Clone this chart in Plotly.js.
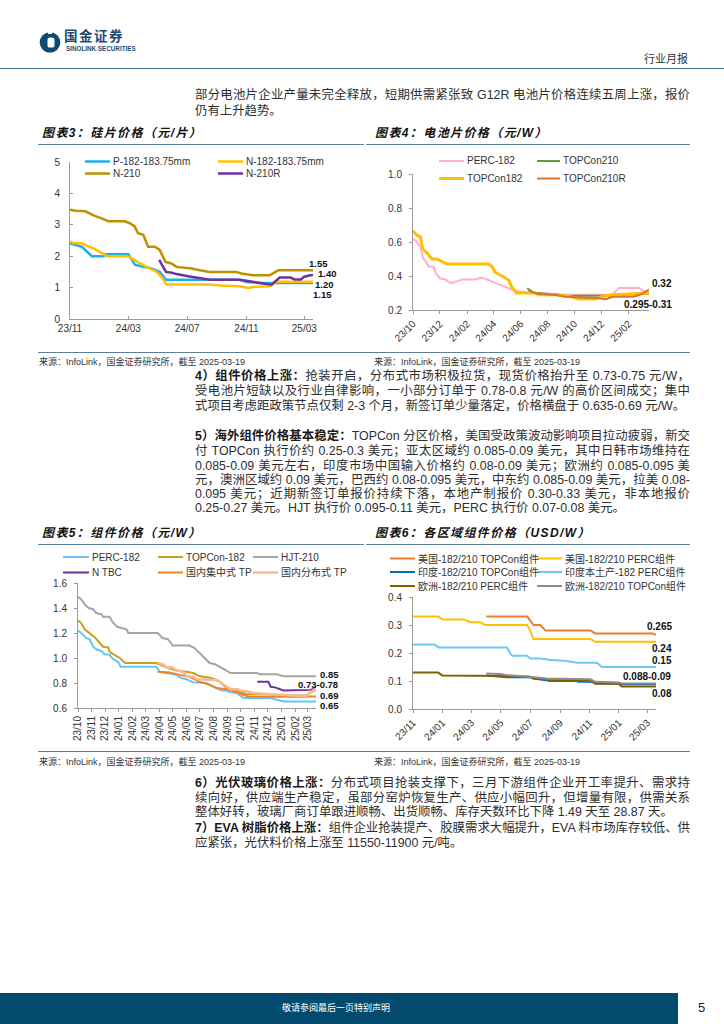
<!DOCTYPE html>
<html><head><meta charset="utf-8">
<script src="https://cdn.plot.ly/plotly-3.0.1.min.js"></script>
<style>
html,body{margin:0;padding:0;background:#fff}
body{width:724px;height:1024px;position:relative;overflow:hidden;font-family:"Liberation Sans","Noto Sans CJK SC",sans-serif;color:#222}
.a{position:absolute;white-space:nowrap}
.tl{position:absolute;left:195px;width:495px;font-size:12.4px;line-height:13px;height:13px;white-space:nowrap;text-align:justify;text-align-last:justify;color:#2e2e2e}
.tl.last{text-align-last:left}
.tl b{font-weight:700;color:#1a1a1a}
.ct{position:absolute;font-size:12px;font-weight:700;font-style:italic;line-height:14px;color:#111;letter-spacing:1.4px;white-space:nowrap}
.rule{position:absolute;height:0;border-top:1.5px solid #5b7f9b}
.src{position:absolute;font-size:9px;line-height:10px;color:#333;white-space:nowrap}
.chart{position:absolute}
</style></head><body>

<!-- header -->
<svg class="a" style="left:39px;top:30px" width="22" height="23" viewBox="0 0 22 23">
  <circle cx="11" cy="12.5" r="10.3" fill="#0e4a74"/>
  <rect x="8.5" y="7.5" width="7" height="10" rx="2.6" fill="#fff"/>
  <rect x="9" y="0" width="4" height="4" fill="#fff"/>
</svg>
<div class="a" style="left:64px;top:30px;font-size:13.5px;line-height:14px;font-weight:700;letter-spacing:1.5px;color:#1b4b72">国金证券</div>
<div class="a" style="left:66px;top:45.5px;font-size:6.3px;line-height:6px;font-weight:700;color:#1b4b72">SINOLINK SECURITIES</div>
<div class="a" style="left:644px;top:52px;font-size:11px;line-height:14px;color:#333">行业月报</div>
<div class="rule" style="left:0;top:67.5px;width:724px;border-top:1.5px solid #3f6f8f"></div>

<div class="tl" style="top:88.5px">部分电池片企业产量未完全释放，短期供需紧张致 G12R 电池片价格连续五周上涨，报价</div>
<div class="tl last" style="top:104.5px">仍有上升趋势。</div>

<div class="ct" style="left:42px;top:126px">图表3：硅片价格（元/片）</div>
<div class="ct" style="left:375px;top:126px">图表4：电池片价格（元/W）</div>
<div class="rule" style="left:38px;top:143.5px;width:326px"></div>
<div class="rule" style="left:366px;top:143.5px;width:324px"></div>

<div id="c3" class="chart" style="left:30px;top:150px;width:335px;height:200px"></div>
<div id="c4" class="chart" style="left:370px;top:150px;width:335px;height:200px"></div>

<div class="rule" style="left:38px;top:351.5px;width:652px"></div>
<div class="src" style="left:39px;top:357px">来源：InfoLink，国金证券研究所，截至 2025-03-19</div>
<div class="src" style="left:374px;top:357px">来源：InfoLink，国金证券研究所，截至 2025-03-19</div>

<div class="tl" style="top:370px"><b>4）组件价格上涨：</b>抢装开启，分布式市场积极拉货，现货价格抬升至 0.73-0.75 元/W，</div>
<div class="tl" style="top:385px">受电池片短缺以及行业自律影响，一小部分订单于 0.78-0.8 元/W 的高价区间成交；集中</div>
<div class="tl last" style="top:400px">式项目考虑距政策节点仅剩 2-3 个月，新签订单少量落定，价格横盘于 0.635-0.69 元/W。</div>

<div class="tl" style="top:430px"><b>5）海外组件价格基本稳定：</b>TOPCon 分区价格，美国受政策波动影响项目拉动疲弱，新交</div>
<div class="tl" style="top:445px">付 TOPCon 执行价约 0.25-0.3 美元；亚太区域约 0.085-0.09 美元，其中日韩市场维持在</div>
<div class="tl" style="top:459.5px">0.085-0.09 美元左右，印度市场中国输入价格约 0.08-0.09 美元；欧洲约 0.085-0.095 美</div>
<div class="tl" style="top:473.5px">元，澳洲区域约 0.09 美元，巴西约 0.08-0.095 美元，中东约 0.085-0.09 美元，拉美 0.08-</div>
<div class="tl" style="top:487.5px">0.095 美元；近期新签订单报价持续下落，本地产制报价 0.30-0.33 美元，非本地报价</div>
<div class="tl last" style="top:502px">0.25-0.27 美元。HJT 执行价 0.095-0.11 美元，PERC 执行价 0.07-0.08 美元。</div>

<div class="ct" style="left:42px;top:526px">图表5：组件价格（元/W）</div>
<div class="ct" style="left:375px;top:526px">图表6：各区域组件价格（USD/W）</div>
<div class="rule" style="left:38px;top:543.5px;width:326px"></div>
<div class="rule" style="left:366px;top:543.5px;width:324px"></div>

<div id="c5" class="chart" style="left:30px;top:550px;width:335px;height:200px"></div>
<div id="c6" class="chart" style="left:370px;top:550px;width:335px;height:200px"></div>

<div class="rule" style="left:38px;top:751px;width:652px"></div>
<div class="src" style="left:39px;top:757px">来源：InfoLink，国金证券研究所，截至 2025-03-19</div>
<div class="src" style="left:374px;top:757px">来源：InfoLink，国金证券研究所，截至 2025-03-19</div>

<div class="tl" style="top:777px"><b>6）光伏玻璃价格上涨：</b>分布式项目抢装支撑下，三月下游组件企业开工率提升、需求持</div>
<div class="tl" style="top:791.5px">续向好，供应端生产稳定，虽部分窑炉恢复生产、供应小幅回升，但增量有限，供需关系</div>
<div class="tl last" style="top:806px">整体好转，玻璃厂商订单跟进顺畅、出货顺畅、库存天数环比下降 1.49 天至 28.87 天。</div>
<div class="tl" style="top:822px"><b>7）EVA 树脂价格上涨：</b>组件企业抢装提产、胶膜需求大幅提升，EVA 料市场库存较低、供</div>
<div class="tl last" style="top:837px">应紧张，光伏料价格上涨至 11550-11900 元/吨。</div>

<!-- footer -->
<div class="a" style="left:0;top:993px;width:678px;height:31px;background:#034b6e"></div>
<div class="a" style="left:0;top:1002px;width:672px;text-align:center;font-size:9px;line-height:12px;color:#fff">敬请参阅最后一页特别声明</div>
<div class="a" style="left:698px;top:1000px;font-size:13px;line-height:16px;color:#222">5</div>

<script>
// ---------------- DATA ----------------
// Chart 3: silicon wafer price (元/片)
const c3Ticks = ['23/11','24/03','24/07','24/11','25/03'];
const c3Names = ['P-182-183.75mm','N-182-183.75mm','N-210','N-210R'];
const c3_P182_x = ['2023-11-01','2023-11-16','2023-11-26','2023-12-16','2024-01-10','2024-01-14','2024-03-01','2024-03-15','2024-04-01','2024-04-18','2024-05-05','2024-05-18','2024-10-18','2024-11-01','2024-11-29','2025-03-19'];
const c3_P182_y = [2.41,2.34,2.30,2.00,2.00,2.06,2.06,1.72,1.67,1.61,1.50,1.25,1.25,1.18,1.15,1.15];
const c3_N182_x = ['2023-11-01','2023-11-09','2023-11-26','2023-12-06','2023-12-20','2024-01-07','2024-01-17','2024-02-27','2024-03-08','2024-03-25','2024-04-08','2024-04-29','2024-05-09','2024-05-19','2024-08-17','2024-09-07','2024-10-18','2024-11-05','2024-11-15','2024-12-19','2025-01-03','2025-03-19'];
const c3_N182_y = [2.47,2.41,2.41,2.33,2.25,2.09,2.00,2.00,1.93,1.77,1.66,1.50,1.34,1.10,1.10,1.07,1.04,0.99,1.02,1.04,1.19,1.19];
const c3_N210_x = ['2023-11-01','2023-11-13','2023-12-03','2023-12-20','2024-01-03','2024-01-20','2024-02-23','2024-03-04','2024-03-14','2024-03-21','2024-04-01','2024-04-11','2024-04-25','2024-05-05','2024-05-17','2024-05-29','2024-06-09','2024-06-30','2024-07-10','2024-07-27','2024-08-17','2024-10-11','2024-10-21','2024-11-15','2024-12-19','2025-01-06','2025-03-19'];
const c3_N210_y = [3.48,3.45,3.43,3.30,3.22,3.11,3.11,3.05,2.95,2.73,2.68,2.30,2.30,2.20,1.82,1.77,1.66,1.64,1.61,1.55,1.50,1.50,1.45,1.39,1.39,1.55,1.55];
const c3_N210R_x = ['2024-05-04','2024-05-18','2024-05-30','2024-06-09','2024-07-03','2024-07-27','2024-08-17','2024-10-18','2024-11-01','2024-11-29','2024-12-23','2025-01-09','2025-01-31','2025-02-09','2025-02-22','2025-02-28','2025-03-13','2025-03-19'];
const c3_N210R_y = [1.88,1.50,1.47,1.43,1.36,1.29,1.25,1.25,1.21,1.15,1.09,1.32,1.32,1.26,1.26,1.34,1.39,1.40];
const c3Labels = ['1.55','1.40','1.20','1.15'];

// Chart 4: cell price (元/W)
const c4Ticks = ['23/10','23/12','24/02','24/04','24/06','24/08','24/10','24/12','25/02'];
const c4Names = ['PERC-182','TOPCon210','TOPCon182','TOPCon210R'];
const c4_PERC_x = ['2023-10-01','2023-10-10','2023-10-18','2023-10-23','2023-10-31','2023-11-06','2023-11-17','2023-11-22','2023-12-02','2023-12-14','2023-12-23','2023-12-30','2024-01-10','2024-01-21','2024-02-20','2024-03-01','2024-03-12','2024-03-24','2024-04-08','2024-04-20','2024-05-05','2024-05-16','2024-05-28','2024-06-19','2024-07-04','2024-09-11','2024-12-26','2025-01-10','2025-02-24','2025-03-09','2025-03-19'];
const c4_PERC_y = [0.62,0.60,0.57,0.51,0.48,0.455,0.455,0.415,0.385,0.38,0.36,0.36,0.37,0.38,0.38,0.39,0.385,0.37,0.355,0.345,0.325,0.315,0.31,0.305,0.30,0.29,0.29,0.33,0.33,0.31,0.305];
const c4_T210_x = ['2024-06-16','2024-06-27','2024-07-11','2024-08-11','2024-09-11','2024-12-11','2025-01-10','2025-03-19'];
const c4_T210_y = [0.327,0.308,0.298,0.294,0.284,0.284,0.29,0.295];
const c4_T182_x = ['2023-10-01','2023-10-10','2023-10-18','2023-10-23','2023-11-02','2023-11-13','2023-11-25','2023-12-06','2023-12-17','2024-03-20','2024-03-28','2024-04-05','2024-04-20','2024-05-05','2024-05-12','2024-05-23','2024-07-04','2024-07-11','2024-08-19','2024-09-19','2024-10-11','2024-11-18','2024-12-03','2024-12-26','2025-03-19'];
const c4_T182_y = [0.665,0.64,0.63,0.56,0.535,0.50,0.50,0.485,0.47,0.47,0.455,0.42,0.40,0.375,0.335,0.30,0.30,0.29,0.29,0.28,0.265,0.265,0.28,0.29,0.30];
const c4_T210R_x = ['2024-06-19','2024-07-04','2024-07-19','2024-08-19','2024-09-11','2024-10-26','2024-11-25','2024-12-11','2024-12-26','2025-02-10','2025-02-25','2025-03-19'];
const c4_T210R_y = [0.314,0.298,0.294,0.288,0.278,0.275,0.269,0.263,0.278,0.278,0.288,0.32];
const c4Labels = ['0.32','0.295-0.31'];

// Chart 5: module price (元/W)
const c5Ticks = ['23/10','23/11','23/12','24/01','24/02','24/03','24/04','24/05','24/06','24/07','24/08','24/09','24/10','24/11','24/12','25/01','25/02','25/03'];
const c5Names = ['PERC-182','TOPCon-182','HJT-210','N TBC','国内集中式 TP','国内分布式 TP'];
const c5_PERC_x = ['2023-10-01','2023-10-08','2023-10-19','2023-10-27','2023-11-04','2023-11-11','2023-11-23','2023-11-30','2023-12-11','2023-12-19','2023-12-30','2024-01-05','2024-03-25','2024-04-02','2024-04-17','2024-05-09','2024-05-20','2024-06-01','2024-06-16','2024-07-15','2024-07-31','2024-08-19','2024-08-30','2024-09-07','2024-09-22','2024-10-07','2024-12-06','2024-12-17','2025-01-05','2025-03-19'];
const c5_PERC_y = [1.22,1.20,1.16,1.15,1.09,1.07,1.055,1.03,1.025,0.99,0.97,0.93,0.93,0.89,0.88,0.865,0.84,0.83,0.805,0.80,0.77,0.74,0.74,0.725,0.72,0.68,0.68,0.67,0.653,0.653];
const c5_TOP_x = ['2023-10-01','2023-10-08','2023-10-16','2023-10-27','2023-11-08','2023-11-19','2023-11-26','2023-12-08','2023-12-11','2023-12-22','2024-01-03','2024-01-15','2024-03-25','2024-04-20','2024-05-09','2024-06-01','2024-06-16','2024-06-27','2024-07-08','2024-07-27','2024-08-15','2024-08-30','2024-09-14','2024-09-29','2024-10-14','2024-12-02','2025-01-05','2025-02-24','2025-03-05','2025-03-19'];
const c5_TOP_y = [1.30,1.28,1.23,1.20,1.165,1.12,1.09,1.085,1.05,1.025,1.00,0.96,0.96,0.92,0.90,0.89,0.88,0.86,0.85,0.84,0.81,0.76,0.75,0.73,0.71,0.71,0.70,0.70,0.72,0.75];
const c5_HJT_x = ['2023-10-01','2023-10-08','2023-10-16','2023-10-25','2023-11-04','2023-11-11','2023-11-23','2023-11-26','2023-12-11','2023-12-17','2023-12-28','2024-01-05','2024-01-18','2024-01-22','2024-03-28','2024-04-08','2024-04-20','2024-05-01','2024-06-08','2024-06-19','2024-06-27','2024-07-08','2024-07-23','2024-08-04','2024-08-15','2024-08-30','2024-09-07','2024-11-06','2024-11-13','2024-12-21','2025-01-05','2025-03-19'];
const c5_HJT_y = [1.49,1.47,1.43,1.40,1.39,1.36,1.35,1.33,1.33,1.29,1.25,1.24,1.23,1.20,1.20,1.16,1.15,1.10,1.10,1.08,1.05,1.01,0.96,0.95,0.93,0.90,0.88,0.88,0.87,0.87,0.855,0.855];
const c5_TBC_x = ['2024-11-07','2024-12-02','2024-12-07','2024-12-17','2025-01-05','2025-02-27','2025-03-08','2025-03-19'];
const c5_TBC_y = [0.81,0.81,0.77,0.765,0.74,0.74,0.745,0.77];
const c5_CEN_x = ['2024-03-28','2024-04-24','2024-05-16','2024-06-08','2024-06-30','2024-07-23','2024-08-08','2024-08-30','2024-09-14','2024-10-07','2024-10-18','2025-02-27','2025-03-05','2025-03-19'];
const c5_CEN_y = [0.89,0.885,0.865,0.85,0.81,0.785,0.76,0.75,0.735,0.705,0.69,0.69,0.693,0.693];
const c5_DIS_x = ['2024-03-28','2024-04-09','2024-04-17','2024-05-01','2024-05-09','2024-05-24','2024-06-01','2024-06-16','2024-06-23','2024-07-23','2024-08-08','2024-08-19','2024-08-30','2024-09-07','2024-09-25','2024-09-29','2024-10-14','2024-10-29','2024-11-21','2024-12-28','2025-02-05','2025-02-24','2025-03-05','2025-03-19'];
const c5_DIS_y = [0.96,0.95,0.925,0.925,0.90,0.89,0.855,0.85,0.83,0.83,0.825,0.80,0.77,0.75,0.75,0.74,0.735,0.72,0.715,0.705,0.695,0.695,0.72,0.76];
const c5Labels = ['0.85','0.73-0.78','0.69','0.65'];

// Chart 6: regional module price (USD/W)
const c6Ticks = ['23/11','24/01','24/03','24/05','24/07','24/09','24/11','25/01','25/03'];
const c6Names = ['美国-182/210 TOPCon组件','美国-182/210 PERC组件','印度-182/210 TOPCon组件','印度本土产-182 PERC组件','欧洲-182/210 PERC组件','欧洲-182/210 TOPCon组件'];
const c6_USTOP_x = ['2024-04-01','2024-06-25','2024-07-08','2024-07-22','2024-08-02','2024-11-03','2024-11-13','2025-03-12','2025-03-19'];
const c6_USTOP_y = [0.33,0.33,0.30,0.30,0.28,0.28,0.27,0.27,0.265];
const c6_USPERC_x = ['2023-11-01','2023-12-23','2024-01-01','2024-02-16','2024-02-27','2024-03-20','2024-03-29','2024-06-25','2024-07-01','2024-07-08','2024-11-03','2024-11-13','2025-03-19'];
const c6_USPERC_y = [0.33,0.33,0.32,0.32,0.31,0.31,0.30,0.30,0.28,0.25,0.25,0.24,0.24];
const c6_INTOP_x = ['2024-04-01','2024-05-05','2024-05-14','2024-07-01','2024-07-08','2024-08-02','2024-10-01','2024-10-09','2024-11-10','2024-11-16','2024-12-31','2025-01-07','2025-03-19'];
const c6_INTOP_y = [0.12,0.115,0.113,0.113,0.109,0.103,0.103,0.097,0.097,0.091,0.091,0.088,0.088];
const c6_INPERC_x = ['2023-11-01','2023-12-16','2023-12-24','2024-05-14','2024-05-22','2024-05-25','2024-06-25','2024-07-01','2024-07-22','2024-08-13','2024-09-10','2024-10-07','2024-11-16','2024-11-27','2025-03-19'];
const c6_INPERC_y = [0.23,0.23,0.22,0.22,0.195,0.19,0.19,0.18,0.18,0.175,0.172,0.165,0.165,0.15,0.15];
const c6_EUPERC_x = ['2023-11-01','2023-12-23','2024-01-01','2024-04-01','2024-05-11','2024-07-01','2024-07-08','2024-07-30','2024-08-09','2024-11-03','2024-11-13','2024-12-31','2025-01-07','2025-03-19'];
const c6_EUPERC_y = [0.13,0.13,0.12,0.12,0.118,0.115,0.109,0.109,0.10,0.10,0.09,0.09,0.08,0.08];
const c6_EUTOP_x = ['2024-04-01','2024-04-30','2024-05-11','2024-06-25','2024-07-01','2024-08-02','2024-11-03','2024-11-13','2024-12-31','2025-01-07','2025-03-19'];
const c6_EUTOP_y = [0.127,0.125,0.121,0.118,0.115,0.109,0.106,0.097,0.095,0.091,0.091];
const c6Labels = ['0.265','0.24','0.15','0.088-0.09','0.08'];

// ---------------- RENDER ----------------
const LAT = '"Liberation Sans", "Noto Sans CJK SC", sans-serif';
const tickDate = t => '20' + t.slice(0,2) + '-' + t.slice(3) + '-01';

function build(id, box, m, ax, series, legend, labels, labelSize) {
  const pw = box.w - m.l - m.r, ph = box.h - m.t - m.b;
  const X = px => (px - box.x - m.l) / pw;
  const Y = py => 1 - (py - box.y - m.t) / ph;
  const traces = series.map(s => ({
    type: 'scatter', mode: 'lines', x: s.x, y: s.y, name: s.name,
    line: {color: s.color, width: s.width}, hoverinfo: 'skip', showlegend: false
  }));
  const shapes = [], annotations = [];
  series.forEach((s, i) => {
    const p = legend[i];
    shapes.push({type: 'line', xref: 'paper', yref: 'paper', x0: X(p[0]), x1: X(p[1]), y0: Y(p[2]), y1: Y(p[2]),
      line: {color: s.color, width: s.lw || s.width}});
    annotations.push({xref: 'paper', yref: 'paper', x: X(p[1] + 1.5), y: Y(p[2]), xanchor: 'left', yanchor: 'middle',
      text: s.name, showarrow: false, font: {size: 10, color: '#333', family: LAT}, borderpad: 0});
  });
  labels.forEach(l => annotations.push({xref: 'paper', yref: 'paper', x: X(l[1]), y: Y(l[2]), xanchor: 'center', yanchor: 'middle',
      text: '<b>' + l[0] + '</b>', showarrow: false, font: {size: labelSize, color: '#111', family: LAT}, borderpad: 0}));
  const axisBase = {showline: true, linecolor: '#9a9a9a', linewidth: 1, showgrid: false, zeroline: false,
    tickcolor: '#9a9a9a', ticklen: 3, tickwidth: 1, automargin: false, fixedrange: true,
    tickfont: {size: 10, color: '#333', family: LAT}};
  const layout = {
    width: box.w, height: box.h, margin: m, paper_bgcolor: 'rgba(0,0,0,0)', plot_bgcolor: 'rgba(0,0,0,0)',
    showlegend: false, shapes, annotations,
    xaxis: Object.assign({}, axisBase, {type: 'date', range: ax.xr, tickvals: ax.ticks.map(tickDate), ticktext: ax.ticks,
      tickangle: ax.angle, ticks: ax.xt}),
    yaxis: Object.assign({}, axisBase, {range: ax.yr, tickvals: ax.yv, tickformat: ax.yf, ticks: ax.yt, ticklabelstandoff: ax.ys})
  };
  Plotly.newPlot(id, traces, layout, {staticPlot: true, displayModeBar: false});
}

// chart 3
build('c3', {x: 30, y: 150, w: 335, h: 200}, {l: 40, r: 52, t: 12, b: 31},
  {xr: ['2023-11-01', '2025-03-19'], ticks: c3Ticks, angle: 0, xt: 'inside', yr: [0, 5], yv: [0,1,2,3,4,5], yf: 'd', yt: 'inside', ys: 7},
  [
    {name: c3Names[0], x: c3_P182_x, y: c3_P182_y, color: '#1cb0eb', width: 2.5},
    {name: c3Names[1], x: c3_N182_x, y: c3_N182_y, color: '#ffc000', width: 2.5},
    {name: c3Names[2], x: c3_N210_x, y: c3_N210_y, color: '#bf9000', width: 2.5},
    {name: c3Names[3], x: c3_N210R_x, y: c3_N210R_y, color: '#7030a0', width: 2.5}
  ],
  [[85, 110, 161.5], [218, 243, 161.5], [85, 110, 173.5], [218, 243, 173.5]],
  [[c3Labels[0], 318, 263], [c3Labels[1], 327, 273.5], [c3Labels[2], 324, 284], [c3Labels[3], 322, 294.5]], 9.5
);

// chart 4
build('c4', {x: 370, y: 150, w: 335, h: 200}, {l: 43, r: 56, t: 24, b: 40},
  {xr: ['2023-10-01', '2025-03-19'], ticks: c4Ticks, angle: -45, xt: 'outside', yr: [0.2, 1.0], yv: [0.2,0.4,0.6,0.8,1.0], yf: '.1f', yt: 'outside', ys: 5},
  [
    {name: c4Names[0], x: c4_PERC_x, y: c4_PERC_y, color: '#ffb0c8', width: 2},
    {name: c4Names[1], x: c4_T210_x, y: c4_T210_y, color: '#5e9e3a', width: 2},
    {name: c4Names[2], x: c4_T182_x, y: c4_T182_y, color: '#ffc000', width: 3},
    {name: c4Names[3], x: c4_T210R_x, y: c4_T210R_y, color: '#e07030', width: 2}
  ],
  [[439, 464, 161], [537, 560, 161], [439, 464, 178.5], [537, 560, 178.5]],
  [[c4Labels[0], 661.5, 283], [c4Labels[1], 647.5, 304]], 10
);

// chart 5
build('c5', {x: 30, y: 550, w: 335, h: 200}, {l: 48, r: 49, t: 33, b: 42},
  {xr: ['2023-10-01', '2025-03-19'], ticks: c5Ticks, angle: -90, xt: 'outside', yr: [0.6, 1.6], yv: [0.6,0.8,1.0,1.2,1.4,1.6], yf: '.1f', yt: 'outside', ys: 5},
  [
    {name: c5Names[0], x: c5_PERC_x, y: c5_PERC_y, color: '#66c6f2', width: 2},
    {name: c5Names[1], x: c5_TOP_x, y: c5_TOP_y, color: '#c9a020', width: 2},
    {name: c5Names[2], x: c5_HJT_x, y: c5_HJT_y, color: '#a5a5a5', width: 2},
    {name: c5Names[3], x: c5_TBC_x, y: c5_TBC_y, color: '#7030a0', width: 2},
    {name: c5Names[4], x: c5_CEN_x, y: c5_CEN_y, color: '#f58220', width: 2},
    {name: c5Names[5], x: c5_DIS_x, y: c5_DIS_y, color: '#f8b890', width: 2.5}
  ],
  [[63, 89, 557], [158, 183, 557], [253, 278, 557], [63, 89, 572.5], [158, 183, 572.5], [253, 278, 572.5]],
  [[c5Labels[0], 329, 674], [c5Labels[1], 318, 684.5], [c5Labels[2], 329, 695], [c5Labels[3], 329, 705.5]], 9.5
);

// chart 6
build('c6', {x: 370, y: 550, w: 335, h: 200}, {l: 43, r: 49, t: 47, b: 41},
  {xr: ['2023-11-01', '2025-03-19'], ticks: c6Ticks, angle: -45, xt: 'outside', yr: [0, 0.4], yv: [0,0.1,0.2,0.3,0.4], yf: '.1f', yt: 'outside', ys: 5},
  [
    {name: c6Names[0], x: c6_USTOP_x, y: c6_USTOP_y, color: '#ed7d31', width: 2},
    {name: c6Names[1], x: c6_USPERC_x, y: c6_USPERC_y, color: '#ffc000', width: 2},
    {name: c6Names[2], x: c6_INTOP_x, y: c6_INTOP_y, color: '#0070c0', width: 2},
    {name: c6Names[3], x: c6_INPERC_x, y: c6_INPERC_y, color: '#70c8f5', width: 2},
    {name: c6Names[4], x: c6_EUPERC_x, y: c6_EUPERC_y, color: '#7f6000', width: 2},
    {name: c6Names[5], x: c6_EUTOP_x, y: c6_EUTOP_y, color: '#8c8c8c', width: 2}
  ],
  [[390, 415, 558.5], [537, 562, 558.5], [390, 415, 572], [537, 562, 572], [390, 415, 586], [537, 562, 586]],
  [[c6Labels[0], 659.5, 626], [c6Labels[1], 662, 648.5], [c6Labels[2], 662, 660], [c6Labels[3], 646.5, 676], [c6Labels[4], 662, 693.5]], 10
);
</script>
</body></html>
